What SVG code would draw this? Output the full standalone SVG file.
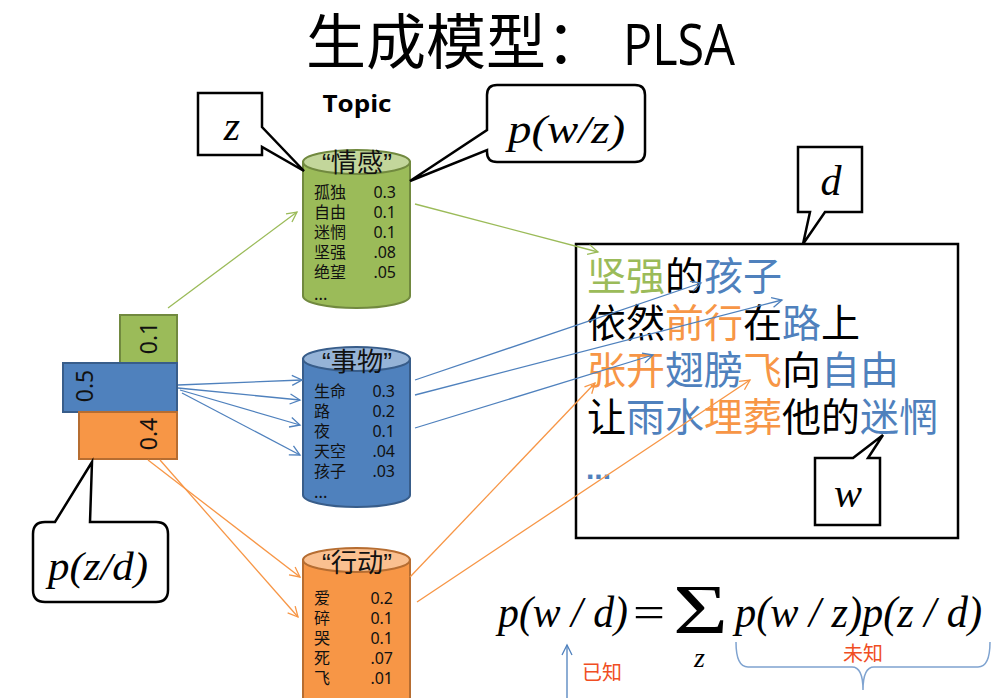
<svg xmlns="http://www.w3.org/2000/svg" width="997" height="698" viewBox="0 0 997 698">
<style>
.cjk{font-family:"Noto Sans CJK SC","Noto Sans",sans-serif}
.math{font-family:"Liberation Serif","Times New Roman",serif;font-style:italic}
.row{font-family:"Noto Sans CJK SC","Noto Sans",sans-serif;font-size:16px;fill:#111}
.num{font-family:"Noto Sans","Liberation Sans",sans-serif;font-size:16px;fill:#111;text-anchor:end}
.lbl{font-family:"Liberation Sans","Noto Sans CJK SC",sans-serif;font-size:26px;fill:#111;text-anchor:middle}
.bar{font-family:"Noto Sans","Liberation Sans",sans-serif;font-size:23px;fill:#111;text-anchor:middle}
.callout{fill:#fff;stroke:#000;stroke-width:2.5;stroke-linejoin:miter}
.g{fill:#9BBB59}.b{fill:#4F81BD}.o{fill:#F79646}.k{fill:#000}
.lg{stroke:#9BBB59;stroke-width:1.3;fill:none}
.lb{stroke:#4F81BD;stroke-width:1.3;fill:none}
.lo{stroke:#F79646;stroke-width:1.3;fill:none}
</style>
<defs>
<marker id="ag" markerUnits="userSpaceOnUse" markerWidth="14" markerHeight="14" refX="11" refY="6" orient="auto"><path d="M1,1 L11,6 L1,11" fill="none" stroke="#9BBB59" stroke-width="1.3"/></marker>
<marker id="ab" markerUnits="userSpaceOnUse" markerWidth="14" markerHeight="14" refX="11" refY="6" orient="auto"><path d="M1,1 L11,6 L1,11" fill="none" stroke="#4F81BD" stroke-width="1.3"/></marker>
<marker id="ao" markerUnits="userSpaceOnUse" markerWidth="14" markerHeight="14" refX="11" refY="6" orient="auto"><path d="M1,1 L11,6 L1,11" fill="none" stroke="#F79646" stroke-width="1.3"/></marker>
</defs>
<rect width="997" height="698" fill="#fff"/>

<g id="title">
<text x="306" y="64" class="cjk" font-size="60" fill="#000">生成模型：</text>
<text x="623" y="65" font-family="Open Sans,Liberation Sans,sans-serif" font-size="56" textLength="112" lengthAdjust="spacingAndGlyphs" fill="#000">PLSA</text>
</g>

<g id="topic-label">
<text x="357" y="112" font-family="Open Sans,Liberation Sans,sans-serif" font-weight="bold" font-size="24" text-anchor="middle" textLength="69" lengthAdjust="spacingAndGlyphs" fill="#000">Topic</text>
</g>

<g id="bars">
<rect x="120" y="315" width="57" height="48" fill="#9BBB59" stroke="#71893F" stroke-width="2"/>
<rect x="63" y="363" width="114" height="49" fill="#4F81BD" stroke="#385D8A" stroke-width="2"/>
<rect x="79" y="412" width="98" height="47" fill="#F79646" stroke="#B66D31" stroke-width="2"/>
<text class="bar" transform="translate(157,338) rotate(-90)">0.1</text>
<text class="bar" transform="translate(93,386) rotate(-90)">0.5</text>
<text class="bar" transform="translate(157,434) rotate(-90)">0.4</text>
</g>

<g id="topic-emotion">
<path d="M303,162 V296 A53.5,12 0 0 0 410,296 V162 Z" fill="#9BBB59" stroke="#71893F" stroke-width="2"/>
<ellipse cx="356.5" cy="162" rx="53.5" ry="12" fill="#C3D69B" stroke="#71893F" stroke-width="2"/>
<text class="lbl" x="357" y="172" textLength="70" lengthAdjust="spacingAndGlyphs">“情感”</text>
<text class="row" x="314" y="198">孤独</text><text class="num" x="396" y="198">0.3</text>
<text class="row" x="314" y="218">自由</text><text class="num" x="396" y="218">0.1</text>
<text class="row" x="314" y="238">迷惘</text><text class="num" x="396" y="238">0.1</text>
<text class="row" x="314" y="258">坚强</text><text class="num" x="396" y="258">.08</text>
<text class="row" x="314" y="278">绝望</text><text class="num" x="396" y="278">.05</text>
<text class="row" x="314" y="300">...</text>
</g>

<g id="topic-thing">
<path d="M303,359 V495 A53.5,12 0 0 0 410,495 V359 Z" fill="#4F81BD" stroke="#385D8A" stroke-width="2"/>
<ellipse cx="356.5" cy="359" rx="53.5" ry="12" fill="#95B3D7" stroke="#385D8A" stroke-width="2"/>
<text class="lbl" x="357" y="371" textLength="70" lengthAdjust="spacingAndGlyphs">“事物”</text>
<text class="row" x="314" y="397">生命</text><text class="num" x="395" y="397">0.3</text>
<text class="row" x="314" y="417">路</text><text class="num" x="395" y="417">0.2</text>
<text class="row" x="314" y="437">夜</text><text class="num" x="395" y="437">0.1</text>
<text class="row" x="314" y="457">天空</text><text class="num" x="395" y="457">.04</text>
<text class="row" x="314" y="477">孩子</text><text class="num" x="395" y="477">.03</text>
<text class="row" x="314" y="498">...</text>
</g>

<g id="topic-action">
<path d="M303,560 V700 A53.5,12 0 0 0 410,700 V560 Z" fill="#F79646" stroke="#B66D31" stroke-width="2"/>
<ellipse cx="356.5" cy="560" rx="53.5" ry="12" fill="#FAC090" stroke="#B66D31" stroke-width="2"/>
<text class="lbl" x="357" y="572" textLength="70" lengthAdjust="spacingAndGlyphs">“行动”</text>
<text class="row" x="314" y="604">爱</text><text class="num" x="393" y="604">0.2</text>
<text class="row" x="314" y="624">碎</text><text class="num" x="393" y="624">0.1</text>
<text class="row" x="314" y="644">哭</text><text class="num" x="393" y="644">0.1</text>
<text class="row" x="314" y="664">死</text><text class="num" x="393" y="664">.07</text>
<text class="row" x="314" y="684">飞</text><text class="num" x="393" y="684">.01</text>
</g>

<g id="document">
<rect x="576" y="244" width="382" height="294" fill="#fff" stroke="#000" stroke-width="2.5"/>
<text class="cjk" x="587" y="290" font-size="39"><tspan class="g">坚强</tspan><tspan class="k">的</tspan><tspan class="b">孩子</tspan></text>
<text class="cjk" x="587" y="337" font-size="39"><tspan class="k">依然</tspan><tspan class="o">前行</tspan><tspan class="k">在</tspan><tspan class="b">路</tspan><tspan class="k">上</tspan></text>
<text class="cjk" x="587" y="384" font-size="39"><tspan class="o">张开</tspan><tspan class="b">翅膀</tspan><tspan class="o">飞</tspan><tspan class="k">向</tspan><tspan class="b">自由</tspan></text>
<text class="cjk" x="587" y="431" font-size="39"><tspan class="k">让</tspan><tspan class="b">雨水</tspan><tspan class="o">埋葬</tspan><tspan class="k">他的</tspan><tspan class="b">迷惘</tspan></text>
<text x="586" y="479" font-family="Liberation Sans,sans-serif" font-weight="bold" font-size="30" class="b">...</text>
</g>

<g id="callout-z">
<path class="callout" d="M198,93 H262 V127 L304,171 L262,147 V155 H198 Z"/>
<text class="math" x="232" y="140" font-size="42" text-anchor="middle">z</text>
</g>

<g id="callout-pwz">
<path class="callout" d="M497,85 H635 Q645,85 645,95 V152 Q645,162 635,162 H497 Q487,162 487,152 V150 L410,181 L487,130 V95 Q487,85 497,85 Z"/>
<text class="math" x="508" y="143" font-size="40" textLength="117" lengthAdjust="spacingAndGlyphs">p(w/z)</text>
</g>

<g id="callout-d">
<path class="callout" d="M798,147 H862 V212 H825 L803,244 L810,212 H798 Z"/>
<text class="math" x="831" y="195" font-size="42" text-anchor="middle">d</text>
</g>

<g id="callout-w">
<path class="callout" d="M815,458 H853 L883,435 L868,458 H880 V525 H815 Z"/>
<text class="math" x="848" y="507" font-size="42" text-anchor="middle">w</text>
</g>

<g id="callout-pzd">
<path class="callout" d="M45,522 H55 L92,462 L90,522 H156 Q168,522 168,534 V590 Q168,602 156,602 H45 Q33,602 33,590 V534 Q33,522 45,522 Z"/>
<text class="math" x="48" y="580" font-size="40" textLength="100" lengthAdjust="spacingAndGlyphs">p(z/d)</text>
</g>

<g id="formula">
<text class="math" x="498" y="627" font-size="44" textLength="130" lengthAdjust="spacingAndGlyphs">p(w / d)</text>
<text x="633" y="627" font-family="Liberation Serif,serif" font-size="44" textLength="32" lengthAdjust="spacingAndGlyphs">=</text>
<text x="673" y="633" font-family="Liberation Serif,serif" font-size="70" textLength="55" lengthAdjust="spacingAndGlyphs">Σ</text>
<text class="math" x="694" y="667" font-size="28">z</text>
<text class="math" x="735" y="627" font-size="44" textLength="247" lengthAdjust="spacingAndGlyphs">p(w / z)p(z / d)</text>
<path d="M736,642 Q736,667 748,667 H852 Q863,667 863,690 Q863,667 874,667 H978 Q990,667 990,642" fill="none" stroke="#7FA3D0" stroke-width="1.5"/>
<text class="cjk" x="863" y="661" font-size="20" fill="#F04E23" text-anchor="middle">未知</text>
<text class="cjk" x="582" y="680" font-size="20" fill="#F04E23">已知</text>
</g>

<g id="connectors">
<line class="lg" x1="168" y1="308" x2="297" y2="212" marker-end="url(#ag)"/>
<line class="lg" x1="415" y1="204" x2="598" y2="252" marker-end="url(#ag)"/>
<line class="lb" x1="178" y1="385" x2="302" y2="380" marker-end="url(#ab)"/>
<line class="lb" x1="178" y1="388" x2="300" y2="400" marker-end="url(#ab)"/>
<line class="lb" x1="180" y1="390" x2="300" y2="425" marker-end="url(#ab)"/>
<line class="lb" x1="182" y1="393" x2="300" y2="455" marker-end="url(#ab)"/>
<line class="lb" x1="415" y1="380" x2="701" y2="283" marker-end="url(#ab)"/>
<line class="lb" x1="415" y1="395" x2="782" y2="300" marker-end="url(#ab)"/>
<line class="lb" x1="415" y1="428" x2="653" y2="355" marker-end="url(#ab)"/>
<line class="lo" x1="148" y1="460" x2="300" y2="577" marker-end="url(#ao)"/>
<line class="lo" x1="160" y1="460" x2="298" y2="617" marker-end="url(#ao)"/>
<line class="lo" x1="410" y1="577" x2="595" y2="383" marker-end="url(#ao)"/>
<line class="lo" x1="417" y1="602" x2="750" y2="380" marker-end="url(#ao)"/>
<line x1="567" y1="698" x2="567" y2="645" stroke="#4F81BD" stroke-width="1.3" marker-end="url(#ab)"/>
</g>
</svg>
